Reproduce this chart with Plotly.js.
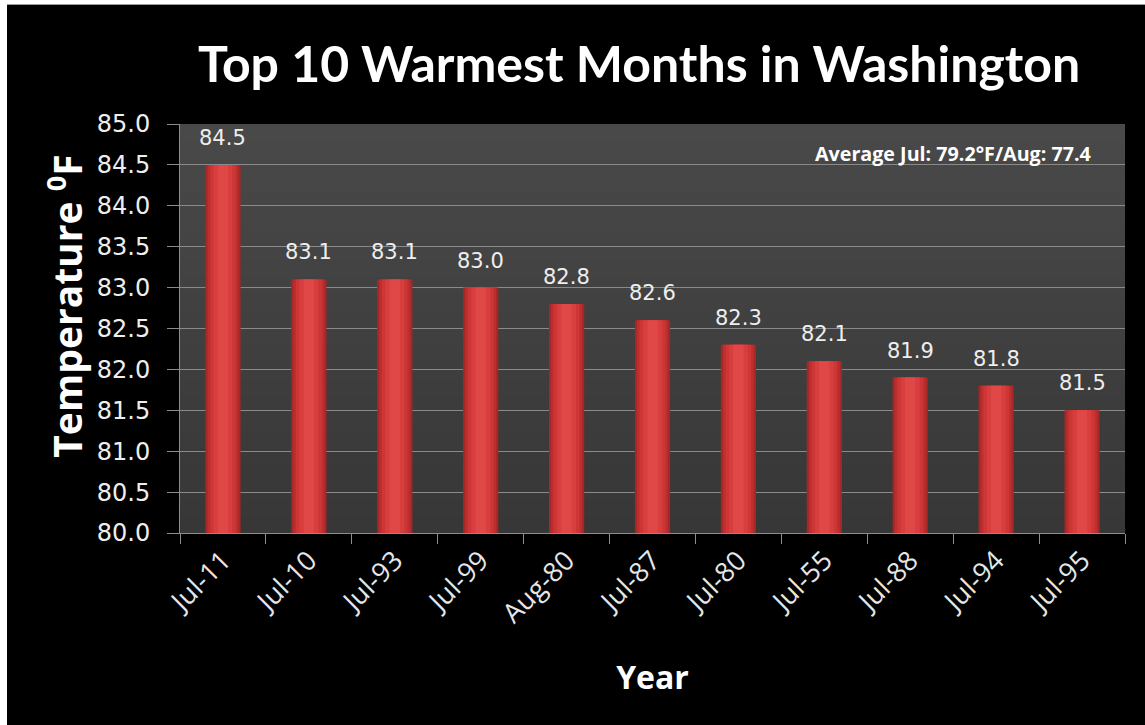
<!DOCTYPE html>
<html>
<head>
<meta charset="utf-8">
<script src="https://cdn.plot.ly/plotly-3.0.1.min.js"></script>
<style>
  html, body { margin: 0; padding: 0; background: #ffffff; }
  #chart { position: absolute; left: 7px; top: 4px; width: 1138px; height: 721px; border-top: 1px solid #9a9a9a; box-sizing: border-box; }
</style>
</head>
<body>
<div id="chart"></div>
<script>
const categories = ["Jul-11", "Jul-10", "Jul-93", "Jul-99", "Aug-80", "Jul-87", "Jul-80", "Jul-55", "Jul-88", "Jul-94", "Jul-95"];
const temperatures = [84.5, 83.1, 83.1, 83.0, 82.8, 82.6, 82.3, 82.1, 81.9, 81.8, 81.5];
const yTickValues = [80.0, 80.5, 81.0, 81.5, 82.0, 82.5, 83.0, 83.5, 84.0, 84.5, 85.0];
const yTickLabels = ["80.0", "80.5", "81.0", "81.5", "82.0", "82.5", "83.0", "83.5", "84.0", "84.5", "85.0"];
const noteText = "Average Jul: 79.2°F/Aug: 77.4";
const yTitle = "Temperature <sup>0</sup>F";

// cylinder-like shading: stacked overlay bars of decreasing width
const shadeLayers = [
  { w: 0.41, c: "#a82626" },
  { w: 0.36, c: "#bd2e2e" },
  { w: 0.30, c: "#cc3636" },
  { w: 0.22, c: "#d83e3e" },
  { w: 0.12, c: "#e04848" }
];
const traces = shadeLayers.map(function (l) {
  return {
    type: "bar",
    x: categories,
    y: temperatures,
    width: l.w,
    marker: { color: l.c, line: { width: 0 } },
    hoverinfo: "skip",
    showlegend: false
  };
});

// plot background gradient bands
const bands = 24;
const shapes = [];
for (let i = 0; i < bands; i++) {
  const t = i / (bands - 1);
  const v = Math.round(0x49 + (0x37 - 0x49) * t);
  const hex = v.toString(16).padStart(2, "0");
  shapes.push({
    type: "rect", xref: "paper", yref: "paper", layer: "below",
    x0: 0, x1: 1, y0: 1 - (i + 1) / bands, y1: 1 - i / bands,
    fillcolor: "#" + hex + hex + hex, line: { width: 0 }
  });
}

const annotations = categories.map(function (c, i) {
  return {
    x: c, y: temperatures[i], xref: "x", yref: "y",
    text: temperatures[i].toFixed(1), showarrow: false,
    yanchor: "bottom", yshift: 13,
    font: { family: "DejaVu Sans, sans-serif", size: 21, color: "#eeeeee" }
  };
});
annotations.push({
  xref: "paper", yref: "y", x: 0.966, y: 84.5,
  xanchor: "right", yanchor: "bottom", yshift: -4,
  text: "<b>" + noteText + "</b>", showarrow: false,
  font: { family: "Open Sans, sans-serif", size: 19.7, color: "#ffffff" }
});
// y-axis title (placed as annotation to match its off-centre position)
annotations.push({
  xref: "paper", yref: "paper", x: -0.122, y: 0.555,
  xanchor: "center", yanchor: "middle", textangle: -90,
  text: "<b>" + yTitle + "</b>", showarrow: false,
  font: { family: "Open Sans, sans-serif", size: 39, color: "#ffffff" }
});

const layout = {
  width: 1138, height: 721,
  paper_bgcolor: "#000000",
  plot_bgcolor: "#404040",
  margin: { l: 173, r: 20, t: 118.7, b: 193 },
  barmode: "overlay",
  title: {
    text: "<b>Top 10 Warmest Months in Washington</b>",
    font: { family: "Lato, sans-serif", size: 50, color: "#ffffff" },
    x: 0.5554, xanchor: "center", xref: "container",
    y: 0.917, yanchor: "middle", yref: "container"
  },
  xaxis: {
    type: "category",
    tickangle: -45,
    tickson: "boundaries",
    ticks: "outside", ticklen: 10, tickcolor: "#8c8c8c", tickwidth: 1,
    showline: true, linecolor: "#8c8c8c", linewidth: 1,
    showgrid: false,
    tickfont: { family: "Open Sans, sans-serif", size: 27, color: "#e6e6e6" },
    title: {
      text: "<b>Year</b>",
      font: { family: "Open Sans, sans-serif", size: 32, color: "#ffffff" },
      standoff: 37
    }
  },
  yaxis: {
    range: [80, 85],
    tickvals: yTickValues, ticktext: yTickLabels,
    ticks: "outside", ticklen: 12, tickcolor: "#8c8c8c", tickwidth: 1,
    ticklabelstandoff: 12,
    showline: true, linecolor: "#8c8c8c", linewidth: 1,
    showgrid: true, gridcolor: "#8a8a8a", gridwidth: 1,
    zeroline: false,
    tickfont: { family: "DejaVu Sans, sans-serif", size: 24, color: "#eeeeee" }
  },
  shapes: shapes,
  annotations: annotations
};

Plotly.newPlot("chart", traces, layout, { displayModeBar: false, staticPlot: true });
</script>
</body>
</html>
